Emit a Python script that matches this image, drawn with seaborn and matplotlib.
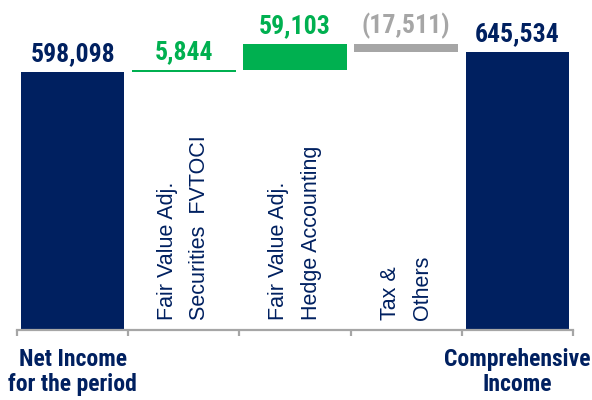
import numpy as np
import pandas as pd
import matplotlib.pyplot as plt
import seaborn as sns

# waterfall steps
categories = ["Net Income\nfor the period", "FVTOCI", "Hedge", "Tax", "Comprehensive\nIncome"]
values = [598098, 5844, 59103, -17511, 645534]
is_total = [True, False, False, False, True]
value_labels = ["598,098", "5,844", "59,103", "(17,511)", "645,534"]
inner_labels = ["", "Fair Value Adj.\nSecurities  FVTOCI", "Fair Value Adj.\nHedge Accounting", "Tax &\nOthers", ""]
tick_labels = ["Net Income\nfor the period", "", "", "", "Comprehensive\nIncome"]

NAVY = "#002060"
GREEN = "#00B050"
GREY = "#A6A6A6"

# bar colours: totals navy, positive steps green, negative steps grey
colors = [NAVY if t else (GREEN if v >= 0 else GREY) for v, t in zip(values, is_total)]

# bottoms / tops from the running total
bottoms, tops = [], []
running = 0
for v, t in zip(values, is_total):
    if t:
        bottoms.append(0)
        running = v
        tops.append(v)
    else:
        bottoms.append(running)
        running += v
        tops.append(running)
heights = [t - b for t, b in zip(tops, bottoms)]

df = pd.DataFrame({"cat": categories, "height": heights})

sns.set_style("white")
narrow = ["Liberation Sans Narrow", "Roboto Condensed", "Arial Narrow",
          "Barlow Semi Condensed", "DejaVu Sans"]
plt.rcParams["font.family"] = ["Liberation Sans", "DejaVu Sans"]

fig = plt.figure(figsize=(5.92, 4.0), dpi=100)
ax = fig.add_axes([17 / 592, 70 / 400, 556 / 592, 330 / 400])

sns.barplot(data=df, x="cat", y="height", hue="cat", palette=colors,
            width=0.93, legend=False, saturation=1, linewidth=0, ax=ax)

# lift the step bars onto the running total
for patch, b in zip(ax.patches, bottoms):
    patch.set_y(b)

ax.set_ylim(0, 765600)
ax.set_xlim(-0.5, len(categories) - 0.5)

# value labels above each bar
for i, (lab, top, b, c) in enumerate(zip(value_labels, tops, bottoms, colors)):
    y = max(top, b)
    ax.annotate(lab, (i, y), xytext=(0, 4), textcoords="offset points",
                ha="center", va="bottom", fontsize=18.5, fontweight="bold",
                color=c, family=narrow)

# rotated labels inside the chart
for i, lab in enumerate(inner_labels):
    if lab:
        ax.text(i, 0.03, lab, transform=ax.get_xaxis_transform(), rotation=90,
                ha="center", va="bottom", multialignment="left",
                fontsize=15.5, color=NAVY, linespacing=1.7)

# axis styling
sns.despine(ax=ax, left=True)
ax.spines["bottom"].set_color(GREY)
ax.spines["bottom"].set_linewidth(1.6)
ax.set_yticks([])
ax.set_ylabel("")
ax.set_xlabel("")
ax.set_xticks(range(len(categories)))
ax.set_xticklabels(tick_labels, fontsize=17, fontweight="bold", color=NAVY,
                   family=narrow)
for t in ax.get_xticklabels():
    t.set_linespacing(1.12)
ax.tick_params(axis="x", which="major", length=0, pad=13)
ax.set_xticks(np.arange(-0.5, len(categories)), minor=True)
ax.tick_params(axis="x", which="minor", bottom=True, length=4, width=1.6,
               color=GREY, direction="out")

fig.savefig("out.png", dpi=100)
